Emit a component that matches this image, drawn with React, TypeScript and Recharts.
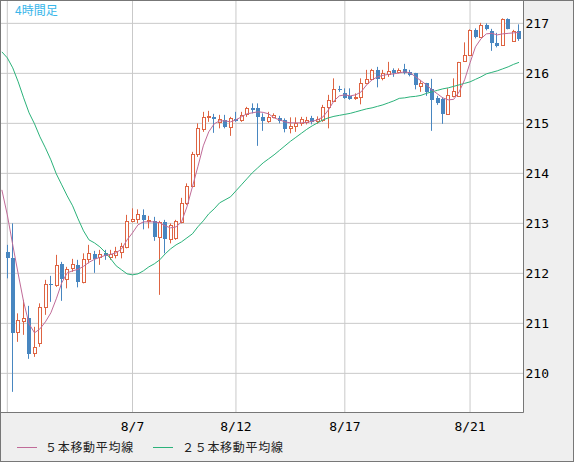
import React from 'react';
import { ComposedChart, Bar, Line, XAxis, YAxis, CartesianGrid } from 'recharts';

// candle index -1 carries only moving-average values (its candle is off the left edge)
const firstIndex = -1;

const opens = [
  212.43, 212.30, 210.82, 211.05, 211.11, 210.41, 210.60, 211.33, 211.78, 211.77,
  212.19, 211.88, 212.10, 212.17, 211.83, 212.28, 212.39, 212.32, 212.41, 212.33,
  212.37, 212.43, 212.53, 213.05, 213.09, 213.17, 213.05, 213.05, 212.73, 213.03,
  212.68, 212.70, 213.03, 213.40, 213.75, 214.39, 214.88, 215.12, 215.12, 215.03,
  215.07, 214.92, 215.09, 215.06, 215.18, 215.31, 215.31, 215.13, 215.05, 215.12,
  215.11, 215.07, 214.91, 214.95, 215.00, 215.03, 215.11, 215.04, 215.07, 215.32,
  215.45, 215.69, 215.60, 215.55, 215.50, 215.53, 215.80, 215.89, 216.07, 215.91,
  215.99, 216.07, 216.02, 216.08, 216.03, 216.00, 215.75, 215.80, 215.68, 215.50,
  215.48, 215.18, 215.55, 215.55, 216.25, 216.37, 216.87, 216.73, 216.97, 216.85,
  216.61, 216.57, 217.08, 216.65, 216.85,
];
const highs = [
  212.57, 213.00, 211.20, 211.47, 211.35, 210.93, 211.40, 211.87, 211.95, 212.37,
  212.23, 212.13, 212.29, 212.27, 212.40, 212.57, 212.45, 212.47, 212.47, 212.47,
  212.53, 212.61, 213.17, 213.30, 213.28, 213.28, 213.15, 213.13, 213.05, 213.07,
  213.00, 213.07, 213.51, 213.80, 214.43, 215.00, 215.23, 215.25, 215.19, 215.17,
  215.17, 215.13, 215.23, 215.23, 215.33, 215.40, 215.40, 215.20, 215.23, 215.20,
  215.15, 215.10, 215.12, 215.12, 215.13, 215.13, 215.15, 215.14, 215.37, 215.57,
  215.90, 215.75, 215.70, 215.70, 215.60, 215.90, 216.07, 216.09, 216.13, 216.07,
  216.23, 216.10, 216.10, 216.19, 216.07, 216.01, 215.87, 215.81, 215.89, 215.55,
  215.52, 215.70, 215.90, 216.23, 216.62, 216.88, 216.90, 217.01, 217.00, 216.89,
  216.81, 217.10, 217.10, 216.87, 216.98,
];
const lows = [
  211.90, 209.63, 210.63, 210.77, 210.29, 210.33, 210.53, 211.17, 211.43, 211.73,
  211.45, 211.70, 212.03, 211.72, 211.80, 212.20, 212.01, 212.17, 212.27, 212.27,
  212.30, 212.30, 212.50, 213.02, 213.00, 212.88, 212.90, 212.65, 211.57, 212.40,
  212.60, 212.67, 213.00, 213.37, 213.72, 214.33, 214.83, 215.03, 214.81, 214.90,
  214.90, 214.75, 215.03, 215.03, 215.13, 215.20, 214.55, 214.85, 215.01, 215.10,
  215.00, 214.82, 214.80, 214.83, 214.95, 214.98, 214.98, 214.99, 215.03, 214.90,
  215.43, 215.63, 215.49, 215.47, 215.47, 215.38, 215.78, 215.87, 215.72, 215.86,
  215.93, 215.93, 216.00, 215.98, 215.94, 215.68, 215.63, 215.55, 214.85, 215.37,
  214.99, 215.17, 215.52, 215.54, 216.24, 216.36, 216.70, 216.72, 216.86, 216.45,
  216.52, 216.55, 216.88, 216.63, 216.65,
];
const closes = [
  212.30, 210.80, 211.07, 211.10, 210.39, 210.53, 211.33, 211.79, 211.76, 212.17,
  211.88, 212.08, 212.18, 211.83, 212.28, 212.40, 212.28, 212.39, 212.34, 212.38,
  212.45, 212.55, 213.05, 213.09, 213.18, 213.07, 213.07, 212.73, 213.03, 212.68,
  212.97, 213.05, 213.40, 213.75, 214.39, 214.90, 215.12, 215.15, 215.08, 215.08,
  214.92, 215.10, 215.05, 215.17, 215.30, 215.27, 215.13, 215.05, 215.13, 215.16,
  215.05, 214.89, 214.95, 215.00, 215.08, 215.06, 215.03, 215.08, 215.32, 215.47,
  215.69, 215.66, 215.51, 215.49, 215.53, 215.80, 215.89, 216.07, 215.89, 216.00,
  216.05, 216.00, 216.07, 216.00, 215.97, 215.77, 215.80, 215.63, 215.47, 215.41,
  215.18, 215.56, 215.65, 216.22, 216.37, 216.87, 216.73, 216.97, 216.88, 216.60,
  216.55, 217.08, 216.89, 216.85, 216.69,
];

// moving averages, starting at index -1
const ma5 = [
  213.67,
  213.17, 212.57, 211.99, 211.43, 210.99, 210.81, 210.89, 211.03, 211.21, 211.49,
  211.81, 212.01, 212.05, 212.08, 212.14, 212.22, 212.28, 212.32, 212.36, 212.38,
  212.41, 212.49, 212.67, 212.81, 212.97, 213.03, 213.03, 213.03, 213.01, 212.95,
  212.91, 212.93, 213.03, 213.33, 213.73, 214.13, 214.55, 214.83, 214.99, 215.05,
  215.05, 215.03, 215.07, 215.13, 215.19, 215.21, 215.23, 215.22, 215.19, 215.11,
  215.07, 215.03, 215.01, 215.01, 215.01, 215.02, 215.04, 215.07, 215.13, 215.27,
  215.45, 215.55, 215.57, 215.55, 215.57, 215.63, 215.77, 215.87, 215.93, 215.96,
  215.98, 215.99, 216.01, 216.03, 216.01, 215.93, 215.85, 215.77, 215.67, 215.59,
  215.51, 215.47, 215.48, 215.63, 215.87, 216.21, 216.53, 216.69, 216.79, 216.80,
  216.77, 216.79, 216.80, 216.81, 216.82,
];
const ma25 = [
  216.43,
  216.31, 216.11, 215.83, 215.51, 215.21, 214.99, 214.73, 214.51, 214.27, 213.99,
  213.77, 213.55, 213.35, 213.09, 212.85, 212.67, 212.61, 212.53, 212.42, 212.29,
  212.15, 212.07, 211.99, 211.97, 211.99, 212.05, 212.13, 212.19, 212.27, 212.39,
  212.49, 212.57, 212.63, 212.71, 212.79, 212.93, 213.05, 213.19, 213.29, 213.41,
  213.47, 213.53, 213.65, 213.77, 213.89, 214.01, 214.11, 214.21, 214.29, 214.37,
  214.46, 214.55, 214.64, 214.72, 214.80, 214.88, 214.95, 215.01, 215.07, 215.11,
  215.14, 215.16, 215.18, 215.20, 215.23, 215.26, 215.29, 215.31, 215.34, 215.37,
  215.41, 215.45, 215.50, 215.51, 215.53, 215.54, 215.56, 215.60, 215.63, 215.66,
  215.69, 215.71, 215.74, 215.77, 215.80, 215.83, 215.88, 215.93, 215.99, 216.02,
  216.05, 216.09, 216.13, 216.18, 216.22,
];

const xTickIdx = [0, 23, 42, 62, 85];
const xTickLabels = ['', '8/7', '8/12', '8/17', '8/21'];
const yTicks = [210, 211, 212, 213, 214, 215, 216, 217];

const UP = '#de6442';
const DOWN = '#4886c0';
const PINK = '#c06b98';
const GREEN = '#2bb27a';
const GRID = '#c9c9c9';
const FRAME = '#777777';

const rows = ma5.map((m5, k) => {
  const i = firstIndex + k;
  const row: any = { i, ma5: m5, ma25: ma25[k] };
  if (i >= 0) {
    row.o = opens[i];
    row.h = highs[i];
    row.l = lows[i];
    row.c = closes[i];
    row.range = [lows[i], highs[i]];
  } else {
    row.range = [m5, m5];
  }
  return row;
});

function Candle(props: any) {
  const { x, y, width, height, payload } = props;
  if (!payload || payload.o == null) return <g />;
  const { o, h, l, c } = payload;
  const span = h - l;
  const toY = (v: number) => (span > 0 ? y + ((h - v) / span) * height : y);
  const cx = x + width / 2;
  const col = Math.floor(cx);
  const wx = col + 0.5;
  const yH = toY(h);
  const yL = toY(l);
  const top = Math.round(toY(Math.max(o, c)));
  const bot = Math.round(toY(Math.min(o, c)));
  if (c >= o) {
    const rTop = top + 0.5;
    const rBot = Math.max(bot, top + 1) + 0.5;
    return (
      <g>
        <line x1={wx} x2={wx} y1={yH} y2={rTop} stroke={UP} strokeWidth={1} />
        <line x1={wx} x2={wx} y1={rBot} y2={yL} stroke={UP} strokeWidth={1} />
        <rect x={col - 0.5} y={rTop} width={3} height={rBot - rTop} fill="#ffffff" stroke={UP} strokeWidth={1} />
      </g>
    );
  }
  return (
    <g>
      <line x1={wx} x2={wx} y1={yH} y2={yL} stroke={DOWN} strokeWidth={1} />
      <rect x={col - 1} y={top} width={4} height={Math.max(bot - top, 1)} fill={DOWN} />
    </g>
  );
}

const axisFont = { fontFamily: '"DejaVu Sans Mono", monospace', fontSize: 13, fill: '#000000' };
const cjk = '"Noto Sans CJK JP", "Noto Sans CJK SC", sans-serif';

export default function App() {
  return (
    <div style={{ position: 'absolute', left: 0, top: 0, width: 574, height: 462, background: '#efefef', overflow: 'hidden' }}>
      <div style={{ position: 'absolute', left: 0, top: 0 }}>
        <ComposedChart width={574} height={462} data={rows} margin={{ top: 0, right: 0, bottom: 0, left: 0 }}>
          <CartesianGrid stroke={GRID} fill="#ffffff" />
          <XAxis
            type="number"
            dataKey="i"
            domain={[-1.341, 94.82]}
            allowDataOverflow
            ticks={xTickIdx}
            tickCount={100}
            interval={0}
            tickFormatter={(v: number) => xTickLabels[xTickIdx.indexOf(v)] ?? ''}
            height={49.5}
            tickLine={false}
            tickSize={0}
            tickMargin={9}
            axisLine={{ stroke: FRAME }}
            tick={axisFont}
          />
          <YAxis
            orientation="right"
            type="number"
            domain={[209.217, 217.467]}
            allowDataOverflow
            ticks={yTicks}
            interval={0}
            width={50.5}
            tickLine={false}
            tickSize={0}
            tickMargin={2}
            axisLine={{ stroke: FRAME }}
            tick={axisFont}
          />
          <Bar dataKey="range" barSize={5.444} shape={(p: any) => <Candle {...p} />} isAnimationActive={false} />
          <Line type="linear" dataKey="ma25" stroke={GREEN} strokeWidth={1} dot={false} activeDot={false} isAnimationActive={false} />
          <Line type="linear" dataKey="ma5" stroke={PINK} strokeWidth={1} dot={false} activeDot={false} isAnimationActive={false} />
        </ComposedChart>
      </div>
      <div style={{ position: 'absolute', left: 15, top: 4, fontFamily: cjk, fontSize: 12, lineHeight: '12px', color: '#38b6ea', whiteSpace: 'nowrap' }}>
        4時間足
      </div>
      <div style={{ position: 'absolute', left: 17, top: 447, width: 20, height: 1, background: PINK }} />
      <div style={{ position: 'absolute', left: 45, top: 441, fontFamily: cjk, fontSize: 12, lineHeight: '12px', color: '#222222', letterSpacing: 0.7, whiteSpace: 'nowrap' }}>
        ５本移動平均線
      </div>
      <div style={{ position: 'absolute', left: 153, top: 447, width: 20, height: 1, background: GREEN }} />
      <div style={{ position: 'absolute', left: 182, top: 441, fontFamily: cjk, fontSize: 12, lineHeight: '12px', color: '#222222', letterSpacing: 0.7, whiteSpace: 'nowrap' }}>
        ２５本移動平均線
      </div>
      <div style={{ position: 'absolute', left: 0, top: 0, width: 574, height: 462, boxSizing: 'border-box', border: `1px solid ${FRAME}`, pointerEvents: 'none' }} />
    </div>
  );
}
